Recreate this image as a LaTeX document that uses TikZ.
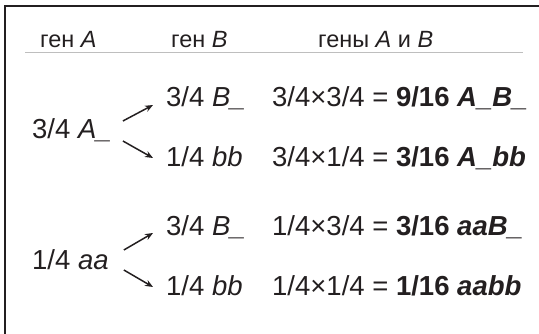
\documentclass[tikz,border=0pt]{standalone}
\usepackage{fontspec}
\setmainfont{Liberation Sans}
\usetikzlibrary{arrows.meta}
\definecolor{ink}{RGB}{35,31,32}
\definecolor{rule}{RGB}{190,190,190}
\tikzset{
  head/.style={inner sep=0pt, anchor=base west, text=ink, font=\fontsize{23.5}{28}\selectfont},
  term/.style={inner sep=0pt, anchor=base west, text=ink, font=\fontsize{27.5}{32}\selectfont},
  branch/.style={draw=ink, line width=1.5pt, -{Stealth[length=8pt,width=6.5pt]}},
  frame/.style={draw=ink, line width=1.3pt},
}
\begin{document}
\begin{tikzpicture}[x=1pt,y=-1pt]
\useasboundingbox (0,0) rectangle (539,334);
% open frame: top and left edges
\draw[frame] (539,6) -- (5,6) -- (5,334);
% column headings
\node[head] (hA) at (40,48) {ген \textit{A}};
\node[head] (hB) at (171,48) {ген \textit{B}};
\node[head] (hAB) at (318,48) {гены \textit{A} и \textit{B}};
\draw[rule, line width=1pt] (25,53) -- (523,53);
% gene A
\node[term] (a1) at (32,139) {3/4 \textit{A\_}};
\node[term] (a2) at (32,270) {1/4 \textit{aa}};
% gene B
\node[term] (b1) at (166,107) {3/4 \textit{B\_}};
\node[term] (b2) at (166,167) {1/4 \textit{bb}};
\node[term] (b3) at (166,236) {3/4 \textit{B\_}};
\node[term] (b4) at (166,296) {1/4 \textit{bb}};
% combined
\node[term] (c1) at (272,107) {3/4×3/4 = \textbf{9/16 \textit{A\_B\_}}};
\node[term] (c2) at (272,167) {3/4×1/4 = \textbf{3/16 \textit{A\_bb}}};
\node[term] (c3) at (272,236) {1/4×3/4 = \textbf{3/16 \textit{aaB\_}}};
\node[term] (c4) at (272,296) {1/4×1/4 = \textbf{1/16 \textit{aabb}}};
% branches
\draw[branch] ([shift={(11,-18)}]a1.base east) -- ([shift={(-13,-2)}]b1.base west);
\draw[branch] ([shift={(11,2)}]a1.base east) -- ([shift={(-13,-9)}]b2.base west);
\draw[branch] ([shift={(15,-20)}]a2.base east) -- ([shift={(-13,-3)}]b3.base west);
\draw[branch] ([shift={(15,0)}]a2.base east) -- ([shift={(-13,-9)}]b4.base west);
\end{tikzpicture}
\end{document}
